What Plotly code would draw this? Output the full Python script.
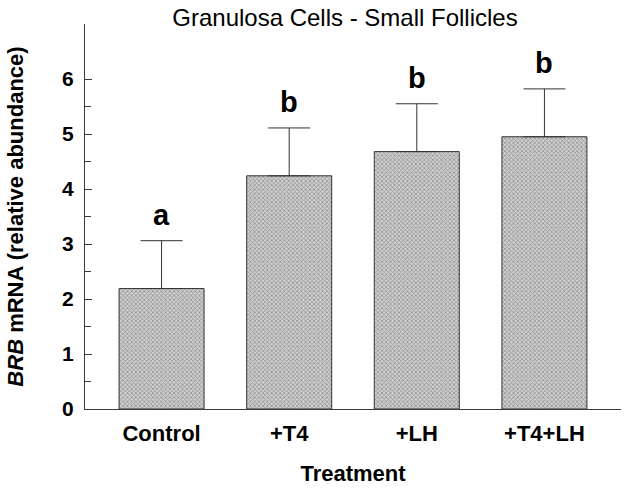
import plotly.graph_objects as go

categories = ["Control", "+T4", "+LH", "+T4+LH"]
means = [2.19, 4.24, 4.68, 4.95]
sems = [0.87, 0.87, 0.87, 0.87]
letters = ["a", "b", "b", "b"]
y_ticks = [0, 1, 2, 3, 4, 5, 6]
y_minor = [0.5, 1.5, 2.5, 3.5, 4.5, 5.5]

FONT = "Liberation Sans, Arial, sans-serif"
AX = "#3a3a3a"
W, H = 629, 490

fig = go.Figure()
fig.add_trace(go.Bar(
    x=categories, y=means, width=0.666,
    marker=dict(
        color="#c4c4c4",
        line=dict(color="#333333", width=1),
        pattern=dict(shape="x", size=3, fgcolor="#555555", bgcolor="#cfcfcf", solidity=0.45),
    ),
    error_y=dict(type="data", array=sems, arrayminus=[0] * len(sems), symmetric=False,
                 color="#333333", thickness=1, width=21),
    showlegend=False,
))

for c, m, s, t in zip(categories, means, sems, letters):
    fig.add_annotation(x=c, y=m + s, text=f"<b>{t}</b>", showarrow=False,
                       yanchor="bottom", yshift=8,
                       font=dict(family=FONT, size=29, color="black"))

fig.update_layout(
    width=W, height=H,
    margin=dict(l=84.5, r=8, t=24, b=80.5),
    paper_bgcolor="white", plot_bgcolor="white",
    bargap=0.334,
    title=dict(text="Granulosa Cells - Small Follicles", x=345 / W, xref="container",
               xanchor="center", y=1 - 18 / H, yref="container", yanchor="middle",
               automargin=False,
               font=dict(family=FONT, size=24, color="black")),
    font=dict(family=FONT, color="black"),
)

fig.update_xaxes(
    range=[-0.6, 3.6], showline=True, linecolor=AX, linewidth=1, mirror=False,
    ticks="", showgrid=False, zeroline=False, automargin=False,
    tickfont=dict(family=FONT, size=22, color="black", weight="bold"),
    ticklabelstandoff=5,
    title=dict(text="<b>Treatment</b>", font=dict(family=FONT, size=22, color="black"), standoff=20),
)
fig.update_yaxes(
    range=[0, 7], showline=True, linecolor=AX, linewidth=1, automargin=False,
    tickmode="array", tickvals=y_ticks, ticktext=[str(v) for v in y_ticks],
    ticks="inside", ticklen=7, tickcolor=AX, tickwidth=1,
    minor=dict(tickmode="array", tickvals=y_minor, ticks="inside", ticklen=6, tickcolor=AX, tickwidth=1),
    showgrid=False, zeroline=False,
    tickfont=dict(family=FONT, size=21, color="black", weight="bold"),
    ticklabelstandoff=6,
    title=dict(text="<b><i>BRB</i> mRNA (relative abundance)</b>",
               font=dict(family=FONT, size=22, color="black"), standoff=32),
)

fig.write_html("out.html", config={"displayModeBar": False},
               post_script="document.body.style.margin='0px';document.body.style.overflow='hidden';")
